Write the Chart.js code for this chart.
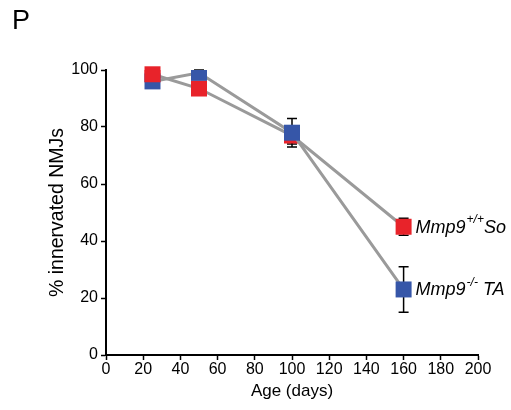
<!DOCTYPE html>
<html>
<head>
<meta charset="utf-8">
<script src="https://cdn.jsdelivr.net/npm/chart.js@4"></script>
<style>
  html, body { margin: 0; padding: 0; background: #fff; }
  #wrap { width: 511px; height: 410px; }
</style>
</head>
<body>
<div id="wrap"><canvas id="grafica" width="511" height="410"></canvas></div>
<script>
const edades = [25, 50, 100, 160];
const valoresSo = [98.5, 93.5, 77, 45];
const erroresSo = [1, 1, 3, 3];
const valoresTA = [96, 99, 78, 23];
const erroresTA = [1, 1, 5, 8];
const ticksX = [0, 20, 40, 60, 80, 100, 120, 140, 160, 180, 200];
const ticksY = [0, 20, 40, 60, 80, 100];

const rojo = '#e8232a';
const azul = '#3656a8';
const gris = '#9a9a9a';
const fuente = "'Liberation Sans', Arial, sans-serif";

// barras de error debajo de los marcadores
const barrasError = {
    id: 'barrasError',
    beforeDatasetsDraw(chart) {
        const { ctx, scales: { x, y } } = chart;
        const series = [[valoresSo, erroresSo], [valoresTA, erroresTA]];
        ctx.save();
        ctx.strokeStyle = '#000';
        ctx.lineWidth = 1.5;
        series.forEach(([vals, errs]) => {
            vals.forEach((v, i) => {
                const px = x.getPixelForValue(edades[i]);
                const top = y.getPixelForValue(v + errs[i]);
                const bot = y.getPixelForValue(v - errs[i]);
                ctx.beginPath();
                ctx.moveTo(px, top); ctx.lineTo(px, bot);
                ctx.moveTo(px - 5, top); ctx.lineTo(px + 5, top);
                ctx.moveTo(px - 5, bot); ctx.lineTo(px + 5, bot);
                ctx.stroke();
            });
        });
        ctx.restore();
    },
    afterDatasetsDraw(chart) {
        // el cuadro rojo a los 25 dias queda encima del azul
        const meta = chart.getDatasetMeta(1);
        meta.data[0].draw(chart.ctx);
    },
    afterDraw(chart) {
        const { ctx, scales: { x, y } } = chart;
        ctx.save();
        ctx.fillStyle = '#000';
        ctx.textBaseline = 'middle';
        ctx.textAlign = 'left';
        ctx.font = `27px ${fuente}`;
        ctx.fillText('P', 12, 22);

        const etiqueta = (valor, sup, resto) => {
            let px = x.getPixelForValue(edades[3]) + 12;
            const py = y.getPixelForValue(valor) + 1;
            ctx.font = `italic 18px ${fuente}`;
            ctx.fillText('Mmp9', px, py);
            px += ctx.measureText('Mmp9').width + 1;
            ctx.font = `italic 12px ${fuente}`;
            ctx.fillText(sup, px, py - 8);
            px += ctx.measureText(sup).width;
            ctx.font = `italic 18px ${fuente}`;
            ctx.fillText(resto, px, py);
        };
        etiqueta(valoresSo[3], '+/+', 'So');
        etiqueta(valoresTA[3], '-/-', ' TA');
        ctx.restore();
    }
};

new Chart(document.getElementById('grafica'), {
    type: 'line',
    data: {
        datasets: [{
            label: 'Mmp9-/- TA',
            data: edades.map((e, i) => ({ x: e, y: valoresTA[i] })),
            borderColor: gris,
            borderWidth: 3,
            pointStyle: 'rect',
            pointRadius: 11.3,
            pointHoverRadius: 11.3,
            pointBackgroundColor: azul,
            pointBorderWidth: 0,
            pointBorderColor: azul
        }, {
            label: 'Mmp9+/+ So',
            data: edades.map((e, i) => ({ x: e, y: valoresSo[i] })),
            borderColor: gris,
            borderWidth: 3,
            pointStyle: 'rect',
            pointRadius: 11.3,
            pointHoverRadius: 11.3,
            pointBackgroundColor: rojo,
            pointBorderWidth: 0,
            pointBorderColor: rojo
        }]
    },
    options: {
        responsive: false,
        animation: false,
        layout: { padding: { top: 70, right: 33, left: 0, bottom: 0 } },
        plugins: { legend: { display: false }, tooltip: { enabled: false } },
        scales: {
            x: {
                type: 'linear',
                min: 0, max: 200,
                afterBuildTicks: (s) => { s.ticks = ticksX.map(v => ({ value: v })); },
                afterFit: (s) => { s.height = 55; },
                grid: { display: true, drawOnChartArea: false, drawTicks: true, tickLength: 5, color: '#000', tickWidth: 1.5 },
                border: { display: true, color: '#000', width: 2 },
                ticks: { color: '#000', font: { size: 16, family: fuente }, padding: 0, maxRotation: 0 },
                title: { display: true, text: 'Age (days)', color: '#000', font: { size: 17, family: fuente }, padding: { top: 0, bottom: 8 } }
            },
            y: {
                min: 0, max: 100,
                afterBuildTicks: (s) => { s.ticks = ticksY.map(v => ({ value: v })); },
                afterFit: (s) => { s.width = 106; },
                grid: { display: true, drawOnChartArea: false, drawTicks: true, tickLength: 5, color: '#000', tickWidth: 1.5 },
                border: { display: true, color: '#000', width: 2 },
                ticks: { color: '#000', font: { size: 16, family: fuente }, padding: 3 },
                title: { display: true, text: '% innervated NMJs', color: '#000', font: { size: 19.5, family: fuente }, padding: { top: 46, bottom: 0 } }
            }
        }
    },
    plugins: [barrasError]
});
</script>
</body>
</html>
